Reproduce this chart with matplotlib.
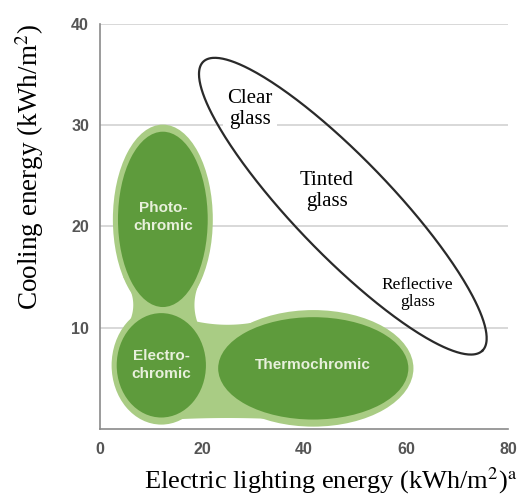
import numpy as np
import matplotlib
matplotlib.use('Agg')
import matplotlib.pyplot as plt
from matplotlib.patches import Ellipse, Polygon

plt.rcParams['mathtext.fontset'] = 'stix'

# Smart-window regions (dark green cores)
regions = ['Photo-\nchromic', 'Electro-\nchromic', 'Thermochromic']
region_x = [12.3, 12.0, 41.8]   # centre, electric lighting energy
region_y = [20.7, 6.3, 6.0]     # centre, cooling energy
region_w = [17.6, 17.5, 37.3]
region_h = [17.3, 10.3, 10.1]
label_y = [20.9, 6.3, 6.3]

# light green bridges joining the cores
# (x0, x1, y0, y1, pinch_a, pinch_b, vertical)
bridges = [(4.5, 20.0, 9.5, 15.0, 2.0, 1.5, True),
           (16.0, 34.0, 1.0, 11.0, 0.1, 0.7, False)]

# Conventional glazing envelope
glass_labels = ['Clear\nglass', 'Tinted\nglass', 'Reflective\nglass']
glass_lx = [29.4, 44.5, 62.2]
glass_ly = [31.6, 23.5, 13.4]
glass_size = [15, 15, 12.5]
glass_cx, glass_cy = 47.6, 22.0
glass_major, glass_minor, glass_angle = 78.8, 19.0, -46.0  # in x-units

xticks = [0, 20, 40, 60, 80]
yticks = [10, 20, 30, 40]

dark = '#5e9b3c'
light = '#a9cc84'


def bridge_poly(x0, x1, y0, y1, pa, pb, vertical):
    # quadrilateral whose two long sides bow inward
    s = np.linspace(0, 1, 40)
    bow = 4 * s * (1 - s)
    if vertical:
        ys = y0 + (y1 - y0) * s
        left = np.column_stack([x0 + pa * bow, ys])
        right = np.column_stack([x1 - pb * bow, ys])[::-1]
        return np.vstack([left, right])
    xs = x0 + (x1 - x0) * s
    bottom = np.column_stack([xs, y0 + pa * bow])
    top = np.column_stack([xs, y1 - pb * bow])[::-1]
    return np.vstack([bottom, top])


fig = plt.figure(figsize=(5.27, 4.95), dpi=100)
ax = fig.add_axes([0.19, 0.133, 0.774, 0.819])
ax.set_xlim(0, 80)
ax.set_ylim(0, 40)

# light halo first, then cores
for x, y, w, h in zip(region_x, region_y, region_w, region_h):
    ax.add_patch(Ellipse((x, y), w + 2.0, h + 1.4, facecolor=light, edgecolor='none', zorder=2))
for b in bridges:
    ax.add_patch(Polygon(bridge_poly(*b), closed=True, facecolor=light, edgecolor='none', zorder=2))
for name, x, y, w, h, ly in zip(regions, region_x, region_y, region_w, region_h, label_y):
    ax.add_patch(Ellipse((x, y), w, h, facecolor=dark, edgecolor='none', zorder=3))
    ax.text(x, ly, name, ha='center', va='center', color='#e8f0dc', fontsize=11,
            fontweight='bold', family='Liberation Sans', linespacing=1.35, zorder=4)

# rotated ellipse, drawn in display-proportional units
bb = ax.get_position()
ratio = (bb.height * fig.get_figheight() / 40) / (bb.width * fig.get_figwidth() / 80)
t = np.linspace(0, 2 * np.pi, 400)
th = np.deg2rad(glass_angle)
u = glass_major / 2 * np.cos(t)
v = glass_minor / 2 * np.sin(t)
ex = glass_cx + u * np.cos(th) - v * np.sin(th)
ey = glass_cy + (u * np.sin(th) + v * np.cos(th)) / ratio
ax.plot(ex, ey, color='#2a2a2a', lw=1.6, zorder=6)

for lab, x, y, s in zip(glass_labels, glass_lx, glass_ly, glass_size):
    ax.text(x, y, lab, ha='center', va='center', fontsize=s, family='Liberation Serif',
            linespacing=1.1, bbox=dict(facecolor='white', edgecolor='none', pad=3), zorder=5)

ax.set_xticks(xticks)
ax.set_yticks(yticks)
ax.tick_params(length=0, labelsize=11.5, labelcolor='#555555')
ax.tick_params(axis='x', pad=9)
ax.tick_params(axis='y', pad=8)
for lbl in ax.get_xticklabels() + ax.get_yticklabels():
    lbl.set_fontweight('bold')
    lbl.set_family('Liberation Sans')

ax.grid(axis='y', color='#d6d6d6', lw=1.3)
ax.set_axisbelow(True)
for s in ['top', 'right']:
    ax.spines[s].set_visible(False)
for s in ['left', 'bottom']:
    ax.spines[s].set_color('#8a8a8a')
    ax.spines[s].set_linewidth(1.2)

ax.set_xlabel('Electric lighting energy (kWh/m$^2$)$^\\mathrm{a}$', fontsize=19,
              family='Liberation Serif')
ax.set_ylabel('Cooling energy (kWh/m$^2$)', fontsize=19.5, family='Liberation Serif')
ax.xaxis.set_label_coords(0.566, -0.126)
ax.yaxis.set_label_coords(-0.172, 0.647)
ax.xaxis.label.set_va('center')
ax.yaxis.label.set_va('center')

fig.savefig('out.png', dpi=100)
